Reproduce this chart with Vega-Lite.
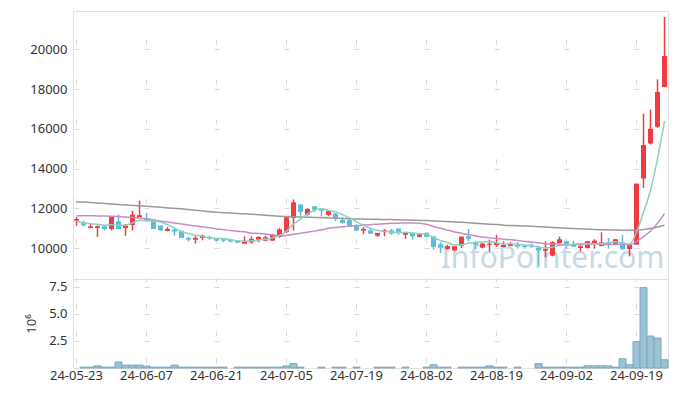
{
  "$schema": "https://vega.github.io/schema/vega-lite/v6.json",
  "padding": {"left": 25, "top": 10, "right": 9, "bottom": 5},
  "bounds": "flush",
  "config": {
    "view": {"stroke": "#e2e2e2"},
    "axis": {"labelFont": "Noto Sans", "labelFontSize": 13, "labelColor": "#333333", "titleFont": "Noto Sans", "titleFontSize": 13, "titleFontWeight": "normal", "titleColor": "#333333", "ticks": false, "domain": false, "gridColor": "#d9d9d9", "gridWidth": 1}
  },
  "data": {"values": [
    {"d":"24-05-23","o":11380,"h":11560,"l":11120,"c":11460,"v":0,"m5":11350,"m20":11630,"m60":12330},
    {"d":"24-05-24","o":11300,"h":11380,"l":11090,"c":11130,"v":0.08,"m5":11270,"m20":11625,"m60":12310},
    {"d":"24-05-27","o":11010,"h":11210,"l":11000,"c":11090,"v":0.08,"m5":11220,"m20":11620,"m60":12290},
    {"d":"24-05-28","o":11010,"h":11140,"l":10560,"c":11090,"v":0.2,"m5":11190,"m20":11615,"m60":12270},
    {"d":"24-05-29","o":11090,"h":11090,"l":10880,"c":10960,"v":0.08,"m5":11150,"m20":11610,"m60":12245},
    {"d":"24-05-30","o":10960,"h":11600,"l":10880,"c":11600,"v":0.08,"m5":11175,"m20":11600,"m60":12220},
    {"d":"24-05-31","o":11350,"h":11680,"l":10960,"c":10960,"v":0.55,"m5":11140,"m20":11585,"m60":12195},
    {"d":"24-06-03","o":11010,"h":11210,"l":10620,"c":11130,"v":0.27,"m5":11150,"m20":11565,"m60":12170},
    {"d":"24-06-04","o":11160,"h":11880,"l":10880,"c":11680,"v":0.27,"m5":11265,"m20":11540,"m60":12145},
    {"d":"24-06-05","o":11550,"h":12390,"l":11550,"c":11650,"v":0.27,"m5":11400,"m20":11510,"m60":12120},
    {"d":"24-06-07","o":11510,"h":11770,"l":11380,"c":11380,"v":0.18,"m5":11360,"m20":11475,"m60":12100},
    {"d":"24-06-10","o":11430,"h":11460,"l":10960,"c":10960,"v":0.08,"m5":11360,"m20":11410,"m60":12075},
    {"d":"24-06-11","o":11130,"h":11130,"l":10860,"c":10890,"v":0.08,"m5":11310,"m20":11360,"m60":12050},
    {"d":"24-06-12","o":10860,"h":11060,"l":10840,"c":10960,"v":0.08,"m5":11170,"m20":11310,"m60":12020},
    {"d":"24-06-13","o":10930,"h":11030,"l":10620,"c":10830,"v":0.27,"m5":11000,"m20":11260,"m60":11995},
    {"d":"24-06-14","o":10860,"h":10860,"l":10490,"c":10510,"v":0.08,"m5":10830,"m20":11210,"m60":11970},
    {"d":"24-06-17","o":10510,"h":10560,"l":10340,"c":10420,"v":0.08,"m5":10720,"m20":11160,"m60":11935},
    {"d":"24-06-18","o":10420,"h":10590,"l":10220,"c":10510,"v":0.08,"m5":10645,"m20":11110,"m60":11900},
    {"d":"24-06-19","o":10510,"h":10670,"l":10390,"c":10620,"v":0.08,"m5":10580,"m20":11060,"m60":11865},
    {"d":"24-06-20","o":10560,"h":10620,"l":10420,"c":10470,"v":0.08,"m5":10505,"m20":11015,"m60":11830},
    {"d":"24-06-21","o":10510,"h":10510,"l":10340,"c":10370,"v":0.08,"m5":10480,"m20":10960,"m60":11800},
    {"d":"24-06-24","o":10470,"h":10510,"l":10290,"c":10370,"v":0.08,"m5":10470,"m20":10925,"m60":11780},
    {"d":"24-06-25","o":10420,"h":10450,"l":10290,"c":10320,"v":0,"m5":10430,"m20":10885,"m60":11760},
    {"d":"24-06-26","o":10390,"h":10400,"l":10250,"c":10270,"v":0.08,"m5":10360,"m20":10845,"m60":11740},
    {"d":"24-06-27","o":10220,"h":10590,"l":10220,"c":10370,"v":0.08,"m5":10340,"m20":10815,"m60":11720},
    {"d":"24-06-28","o":10290,"h":10590,"l":10220,"c":10460,"v":0.08,"m5":10360,"m20":10755,"m60":11700},
    {"d":"24-07-01","o":10420,"h":10590,"l":10290,"c":10560,"v":0.08,"m5":10395,"m20":10735,"m60":11675},
    {"d":"24-07-02","o":10370,"h":10620,"l":10340,"c":10540,"v":0.08,"m5":10440,"m20":10705,"m60":11650},
    {"d":"24-07-03","o":10370,"h":10710,"l":10370,"c":10670,"v":0.08,"m5":10520,"m20":10655,"m60":11625},
    {"d":"24-07-04","o":10560,"h":11010,"l":10510,"c":10930,"v":0.08,"m5":10630,"m20":10620,"m60":11600},
    {"d":"24-07-05","o":10810,"h":11550,"l":10760,"c":11550,"v":0.2,"m5":10850,"m20":10630,"m60":11580},
    {"d":"24-07-08","o":11510,"h":12440,"l":10880,"c":12300,"v":0.4,"m5":11200,"m20":10695,"m60":11570},
    {"d":"24-07-09","o":12190,"h":12190,"l":11630,"c":11820,"v":0.08,"m5":11455,"m20":10740,"m60":11560},
    {"d":"24-07-10","o":11680,"h":12000,"l":11630,"c":11970,"v":0,"m5":11710,"m20":10795,"m60":11550},
    {"d":"24-07-11","o":12100,"h":12100,"l":11800,"c":11930,"v":0,"m5":11915,"m20":10850,"m60":11540},
    {"d":"24-07-12","o":12000,"h":12000,"l":11600,"c":11880,"v":0.08,"m5":11980,"m20":10915,"m60":11530},
    {"d":"24-07-15","o":11670,"h":11900,"l":11600,"c":11850,"v":0,"m5":11890,"m20":10990,"m60":11515},
    {"d":"24-07-16","o":11730,"h":11770,"l":11360,"c":11460,"v":0.08,"m5":11820,"m20":11035,"m60":11500},
    {"d":"24-07-17","o":11410,"h":11550,"l":11230,"c":11260,"v":0.08,"m5":11680,"m20":11070,"m60":11490},
    {"d":"24-07-18","o":11400,"h":11510,"l":11090,"c":11130,"v":0,"m5":11520,"m20":11100,"m60":11475},
    {"d":"24-07-19","o":11140,"h":11190,"l":10860,"c":10880,"v":0.08,"m5":11315,"m20":11125,"m60":11465},
    {"d":"24-07-22","o":10880,"h":11060,"l":10690,"c":10960,"v":0,"m5":11140,"m20":11155,"m60":11455},
    {"d":"24-07-23","o":10880,"h":11030,"l":10720,"c":10720,"v":0,"m5":10990,"m20":11175,"m60":11450},
    {"d":"24-07-24","o":10620,"h":10760,"l":10560,"c":10760,"v":0.08,"m5":10890,"m20":11200,"m60":11445},
    {"d":"24-07-25","o":10810,"h":10960,"l":10590,"c":10890,"v":0.08,"m5":10840,"m20":11225,"m60":11435},
    {"d":"24-07-26","o":10890,"h":10960,"l":10670,"c":10720,"v":0.08,"m5":10810,"m20":11240,"m60":11430},
    {"d":"24-07-29","o":10980,"h":10980,"l":10670,"c":10810,"v":0,"m5":10780,"m20":11250,"m60":11420},
    {"d":"24-07-30","o":10670,"h":10760,"l":10460,"c":10760,"v":0.08,"m5":10790,"m20":11265,"m60":11410},
    {"d":"24-07-31","o":10760,"h":10760,"l":10420,"c":10590,"v":0,"m5":10755,"m20":11260,"m60":11400},
    {"d":"24-08-01","o":10560,"h":10720,"l":10540,"c":10690,"v":0,"m5":10715,"m20":11245,"m60":11390},
    {"d":"24-08-02","o":10760,"h":10790,"l":10540,"c":10560,"v":0.08,"m5":10680,"m20":11195,"m60":11380},
    {"d":"24-08-05","o":10590,"h":10590,"l":9920,"c":10050,"v":0.3,"m5":10530,"m20":11085,"m60":11365},
    {"d":"24-08-06","o":10190,"h":10290,"l":9750,"c":10020,"v":0.08,"m5":10380,"m20":10995,"m60":11350},
    {"d":"24-08-07","o":9950,"h":10170,"l":9920,"c":10090,"v":0.08,"m5":10280,"m20":10900,"m60":11330},
    {"d":"24-08-08","o":9880,"h":10090,"l":9850,"c":10090,"v":0,"m5":10160,"m20":10810,"m60":11315},
    {"d":"24-08-09","o":10120,"h":10570,"l":10000,"c":10570,"v":0.08,"m5":10165,"m20":10745,"m60":11295},
    {"d":"24-08-12","o":10590,"h":10960,"l":10340,"c":10460,"v":0.08,"m5":10245,"m20":10675,"m60":11270},
    {"d":"24-08-13","o":10300,"h":10340,"l":9950,"c":10170,"v":0.08,"m5":10275,"m20":10610,"m60":11245},
    {"d":"24-08-14","o":10020,"h":10250,"l":9990,"c":10220,"v":0.08,"m5":10300,"m20":10555,"m60":11220},
    {"d":"24-08-16","o":10170,"h":10420,"l":9820,"c":10220,"v":0.2,"m5":10330,"m20":10510,"m60":11200},
    {"d":"24-08-19","o":10150,"h":10670,"l":10050,"c":10250,"v":0.08,"m5":10265,"m20":10480,"m60":11180},
    {"d":"24-08-20","o":10050,"h":10340,"l":10040,"c":10150,"v":0.08,"m5":10205,"m20":10440,"m60":11150},
    {"d":"24-08-21","o":10100,"h":10290,"l":10090,"c":10200,"v":0,"m5":10210,"m20":10415,"m60":11130},
    {"d":"24-08-22","o":10200,"h":10290,"l":9970,"c":10070,"v":0.08,"m5":10180,"m20":10380,"m60":11115},
    {"d":"24-08-23","o":10120,"h":10170,"l":9970,"c":10050,"v":0,"m5":10145,"m20":10335,"m60":11105},
    {"d":"24-08-26","o":10170,"h":10220,"l":10000,"c":10070,"v":0,"m5":10110,"m20":10305,"m60":11095},
    {"d":"24-08-27","o":10000,"h":10000,"l":9080,"c":9870,"v":0.4,"m5":10050,"m20":10255,"m60":11075},
    {"d":"24-08-28","o":9870,"h":10340,"l":9530,"c":9950,"v":0.08,"m5":10000,"m20":10215,"m60":11055},
    {"d":"24-08-29","o":9620,"h":10340,"l":9580,"c":10290,"v":0.08,"m5":10045,"m20":10200,"m60":11035},
    {"d":"24-08-30","o":10250,"h":10570,"l":10220,"c":10440,"v":0.08,"m5":10125,"m20":10190,"m60":11015},
    {"d":"24-09-02","o":10340,"h":10370,"l":9970,"c":10170,"v":0.08,"m5":10145,"m20":10170,"m60":10995},
    {"d":"24-09-03","o":10200,"h":10370,"l":10070,"c":10070,"v":0.08,"m5":10185,"m20":10170,"m60":10980},
    {"d":"24-09-04","o":10000,"h":10170,"l":9830,"c":10090,"v":0.08,"m5":10210,"m20":10175,"m60":10965},
    {"d":"24-09-05","o":10000,"h":10340,"l":9970,"c":10340,"v":0.2,"m5":10220,"m20":10185,"m60":10950},
    {"d":"24-09-06","o":10240,"h":10440,"l":9970,"c":10370,"v":0.2,"m5":10205,"m20":10200,"m60":10935},
    {"d":"24-09-09","o":10100,"h":10790,"l":10090,"c":10290,"v":0.2,"m5":10230,"m20":10185,"m60":10925},
    {"d":"24-09-10","o":10290,"h":10510,"l":9970,"c":10170,"v":0.2,"m5":10250,"m20":10175,"m60":10915},
    {"d":"24-09-11","o":10170,"h":10460,"l":10140,"c":10440,"v":0.08,"m5":10320,"m20":10185,"m60":10905},
    {"d":"24-09-12","o":10290,"h":10670,"l":9880,"c":9950,"v":0.85,"m5":10245,"m20":10175,"m60":10895},
    {"d":"24-09-13","o":9950,"h":10200,"l":9580,"c":10170,"v":0.3,"m5":10205,"m20":10170,"m60":10890},
    {"d":"24-09-19","o":10170,"h":13240,"l":10170,"c":13240,"v":2.42,"m5":10795,"m20":10320,"m60":10900},
    {"d":"24-09-20","o":13500,"h":16760,"l":13030,"c":15180,"v":7.4,"m5":11795,"m20":10570,"m60":10935},
    {"d":"24-09-23","o":15260,"h":16970,"l":15210,"c":16000,"v":2.94,"m5":12910,"m20":10860,"m60":10985},
    {"d":"24-09-24","o":16100,"h":18490,"l":16050,"c":17850,"v":2.76,"m5":14490,"m20":11250,"m60":11060},
    {"d":"24-09-25","o":18100,"h":21630,"l":18100,"c":19660,"v":0.76,"m5":16385,"m20":11730,"m60":11150}
  ]},
  "spacing": 0,
  "vconcat": [
    {
      "width": 595,
      "height": 268,
      "encoding": {
        "x": {"field": "d", "type": "ordinal", "scale": {"type": "band", "paddingInner": 0, "paddingOuter": 0},
          "axis": {"values": ["24-05-23","24-06-07","24-06-21","24-07-05","24-07-19","24-08-02","24-08-19","24-09-02","24-09-19"], "labels": false, "title": null, "grid": true, "gridDash": [5, 34.73], "gridDashOffset": 11.23}}
      },
      "layer": [
        {
          "data": {"values": [{"t": "InfoPointer.com"}]},
          "mark": {"type": "text", "font": "Noto Sans", "fontSize": 30, "color": "#c6dae4", "align": "center", "baseline": "alphabetic"},
          "encoding": {
            "x": {"datum": "24-08-29", "type": "ordinal"},
            "y": {"datum": 8980, "type": "quantitative", "scale": {"domain": [8440, 21930], "nice": false, "zero": false}},
            "text": {"field": "t"}
          }
        },
        {
          "mark": {"type": "rule", "strokeWidth": 1.5},
          "encoding": {
            "y": {"field": "l", "type": "quantitative", "scale": {"domain": [8440, 21930], "nice": false, "zero": false},
              "axis": {"values": [10000,12000,14000,16000,18000,20000], "format": "d", "labelPadding": 6, "title": null, "grid": true, "gridDash": [5, 65], "gridDashOffset": 69}},
            "y2": {"field": "h"},
            "color": {"condition": {"test": "datum.c >= datum.o", "value": "#ef3b41"}, "value": "#5dbbd6"}
          }
        },
        {
          "mark": {"type": "bar", "size": 5},
          "encoding": {
            "y": {"field": "o", "type": "quantitative", "title": null},
            "y2": {"field": "c"},
            "color": {"condition": {"test": "datum.c >= datum.o", "value": "#ef3b41"}, "value": "#5dbbd6"}
          }
        },
        {
          "mark": {"type": "line", "color": "#9a9a9a", "strokeWidth": 1.5, "interpolate": "monotone"},
          "encoding": {"y": {"field": "m60", "type": "quantitative", "title": null}}
        },
        {
          "mark": {"type": "line", "color": "#c98bc5", "strokeWidth": 1.5, "interpolate": "monotone"},
          "encoding": {"y": {"field": "m20", "type": "quantitative", "title": null}}
        },
        {
          "mark": {"type": "line", "color": "#8dcfc3", "strokeWidth": 1.5, "interpolate": "monotone"},
          "encoding": {"y": {"field": "m5", "type": "quantitative", "title": null}}
        }
      ]
    },
    {
      "width": 595,
      "height": 89,
      "mark": {"type": "bar", "fill": "#9cc3d5", "stroke": "#7fa7bb", "strokeWidth": 1},
      "encoding": {
        "x": {"field": "d", "type": "ordinal", "scale": {"type": "band", "paddingInner": 0, "paddingOuter": 0},
          "axis": {"values": ["24-05-23","24-06-07","24-06-21","24-07-05","24-07-19","24-08-02","24-08-19","24-09-02","24-09-19"], "labelAngle": 0, "labelPadding": 1, "labelOverlap": false, "title": null, "grid": true, "gridDash": [5, 22.13], "gridDashOffset": 2.5}},
        "y": {"field": "v", "type": "quantitative", "scale": {"domain": [0, 8.2], "nice": false},
          "axis": {"values": [2.5, 5, 7.5], "format": ".1f", "labelPadding": 6, "title": "10⁶", "titlePadding": 10, "grid": true, "gridDash": [5, 65], "gridDashOffset": 69}},
        "opacity": {"condition": {"test": "datum.v > 0", "value": 1}, "value": 0}
      }
    }
  ]
}
